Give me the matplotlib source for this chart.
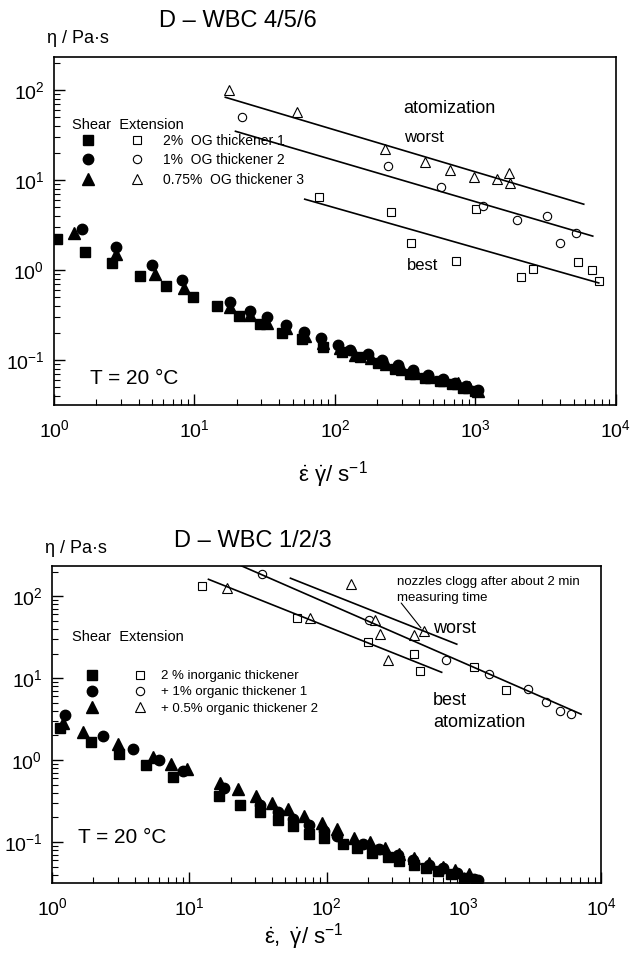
import matplotlib
matplotlib.use("Agg")
import matplotlib.pyplot as plt
from matplotlib.legend_handler import HandlerTuple
from matplotlib.ticker import LogLocator, NullFormatter

plt.rcParams["font.family"] = ["Liberation Sans", "DejaVu Sans"]
plt.rcParams["mathtext.fontset"] = "custom"
plt.rcParams["mathtext.rm"] = "Liberation Sans"
plt.rcParams["mathtext.it"] = "Liberation Sans:italic"
plt.rcParams["mathtext.bf"] = "Liberation Sans:bold"

# ---- D-WBC 4/5/6 : shear (filled) ----
a_sq_x = [1.05, 1.66, 2.6, 4.1, 6.3, 9.7, 14.4, 20.6, 29.5, 41.7, 58, 82, 112, 150, 203, 268, 344, 439, 563, 684, 817, 1000]
a_sq_y = [2.2, 1.58, 1.2, 0.86, 0.66, 0.5, 0.4, 0.31, 0.25, 0.20, 0.17, 0.14, 0.123, 0.108, 0.092, 0.08, 0.07, 0.063, 0.058, 0.054, 0.049, 0.045]
a_ci_x = [1.59, 2.77, 5.0, 8.2, 17.8, 24.7, 33, 44.7, 60, 80, 105, 128, 172, 215, 280, 360, 460, 590, 720, 860, 1050]
a_ci_y = [2.85, 1.8, 1.14, 0.77, 0.44, 0.35, 0.30, 0.245, 0.205, 0.175, 0.147, 0.13, 0.117, 0.1, 0.088, 0.077, 0.068, 0.062, 0.056, 0.052, 0.047]
a_tr_x = [1.39, 2.77, 5.2, 8.4, 17.8, 25, 33, 45, 61, 82, 108, 140, 180, 230, 300, 380, 480, 600, 750, 900, 1050]
a_tr_y = [2.6, 1.5, 0.9, 0.63, 0.39, 0.32, 0.26, 0.23, 0.185, 0.155, 0.135, 0.115, 0.105, 0.09, 0.08, 0.072, 0.065, 0.06, 0.055, 0.05, 0.045]

# ---- D-WBC 4/5/6 : extension (open) ----
a_osq_x = [77, 251, 350, 733, 1010, 2100, 2590, 5350, 6730, 7550]
a_osq_y = [6.5, 4.4, 2.0, 1.26, 4.75, 0.83, 1.02, 1.23, 1.0, 0.76]
a_oci_x = [21.7, 239, 573, 1125, 1990, 3250, 3980, 5180]
a_oci_y = [51, 14.4, 8.3, 5.2, 3.6, 4.0, 2.0, 2.6]
a_otr_x = [17.5, 53.5, 228, 439, 662, 970, 1416, 1730, 1760]
a_otr_y = [102, 58, 22, 15.8, 12.9, 10.8, 10.3, 12.0, 9.3]

# fitted lines (end points)
a_fit_worst_x = [16.6, 5910]
a_fit_worst_y = [83.6, 5.41]
a_fit_mid_x = [19.6, 6850]
a_fit_mid_y = [35.0, 2.39]
a_fit_best_x = [61, 7560]
a_fit_best_y = [6.15, 0.72]

a_labels = ["2%  OG thickener 1", "1%  OG thickener 2", "0.75%  OG thickener 3"]

# ---- D-WBC 1/2/3 : shear (filled) ----
b_sq_x = [1.14, 1.92, 3.09, 4.84, 7.6, 16.6, 23.6, 33, 44.6, 57, 75, 96, 131, 168, 216, 279, 340, 432, 530, 650, 810, 1000]
b_sq_y = [2.45, 1.66, 1.18, 0.87, 0.62, 0.36, 0.28, 0.23, 0.185, 0.157, 0.126, 0.112, 0.095, 0.085, 0.074, 0.066, 0.059, 0.052, 0.048, 0.044, 0.041, 0.036]
b_ci_x = [1.24, 2.36, 3.9, 6.0, 9.0, 18, 33, 44.6, 57, 75, 96, 120, 185, 240, 330, 430, 560, 700, 900, 1180, 1260]
b_ci_y = [3.6, 1.96, 1.36, 1.0, 0.73, 0.46, 0.28, 0.23, 0.19, 0.16, 0.136, 0.118, 0.095, 0.082, 0.07, 0.06, 0.053, 0.048, 0.042, 0.035, 0.034]
b_tr_x = [1.2, 1.68, 3.0, 5.4, 7.3, 9.7, 16.8, 22.5, 30.4, 40, 52, 69, 92, 120, 158, 206, 265, 340, 432, 556, 705, 870, 1090]
b_tr_y = [2.8, 2.2, 1.57, 1.1, 0.9, 0.77, 0.52, 0.44, 0.36, 0.30, 0.25, 0.21, 0.17, 0.144, 0.112, 0.1, 0.085, 0.071, 0.063, 0.055, 0.05, 0.046, 0.041]

# ---- D-WBC 1/2/3 : extension (open) ----
b_osq_x = [12.4, 60.5, 199, 432, 478, 1180, 2040]
b_osq_y = [132, 54, 27.5, 20, 12.2, 13.6, 7.1]
b_oci_x = [34, 203, 740, 1520, 2940, 3970, 5030, 6000]
b_oci_y = [186, 52, 16.6, 11.2, 7.4, 5.1, 4.0, 3.7]
b_otr_x = [18.9, 76, 150, 224, 247, 279, 432, 509]
b_otr_y = [126, 54, 140, 52, 34.5, 16.6, 33.3, 37.5]

b_fit_a_x = [13.8, 690]
b_fit_a_y = [161, 11.8]
b_fit_b_x = [20.9, 7150]
b_fit_b_y = [260, 3.64]
b_fit_c_x = [54.6, 889]
b_fit_c_y = [166, 26]

b_labels = ["2 % inorganic thickener", "+ 1% organic thickener 1", "+ 0.5% organic thickener 2"]


def setup_axes(ax, xpad, ypad):
    ax.set_xscale("log")
    ax.set_yscale("log")
    ax.set_xlim(1, 1e4)
    ax.set_ylim(10 ** -1.5, 10 ** 2.37)
    ax.set_xticks([1, 10, 100, 1000, 10000])
    ax.set_yticks([0.1, 1, 10, 100])
    ax.xaxis.set_minor_locator(LogLocator(base=10, subs=range(2, 10), numticks=20))
    ax.yaxis.set_minor_locator(LogLocator(base=10, subs=range(2, 10), numticks=20))
    ax.xaxis.set_minor_formatter(NullFormatter())
    ax.yaxis.set_minor_formatter(NullFormatter())
    ax.tick_params(which="both", direction="in", top=False, right=False, labelsize=14)
    ax.tick_params(which="major", length=8, width=1)
    ax.tick_params(which="minor", length=4, width=0.8)
    ax.tick_params(axis="x", which="both", pad=xpad)
    ax.tick_params(axis="y", which="both", pad=ypad)
    for sp in ax.spines.values():
        sp.set_linewidth(1.2)


def draw_series(ax, filled, opened):
    handles = []
    for (fx, fy, mk, fms), (ox, oy, oms) in zip(filled, opened):
        hf, = ax.plot(fx, fy, ls="none", marker=mk, ms=fms, color="black")
        ho, = ax.plot(ox, oy, ls="none", marker=mk, ms=oms, mfc="white", mec="black", mew=0.8)
        handles.append((hf, ho))
    return handles


fig = plt.figure(figsize=(6.32, 9.55), dpi=100)

# ---------------- top panel ----------------
ax1 = fig.add_axes([0.0854, 0.5759, 0.889, 0.3644])
setup_axes(ax1, xpad=10, ypad=7)
h1 = draw_series(
    ax1,
    [(a_sq_x, a_sq_y, "s", 7), (a_ci_x, a_ci_y, "o", 7.5), (a_tr_x, a_tr_y, "^", 8)],
    [(a_osq_x, a_osq_y, 5.5), (a_oci_x, a_oci_y, 6), (a_otr_x, a_otr_y, 6.5)],
)
for fx, fy in [(a_fit_worst_x, a_fit_worst_y), (a_fit_mid_x, a_fit_mid_y), (a_fit_best_x, a_fit_best_y)]:
    ax1.plot(fx, fy, color="black", lw=1.2)

ax1.text(0.032, 0.805, "Shear  Extension", transform=ax1.transAxes, fontsize=10.5, va="center")
ax1.legend(h1, a_labels, handler_map={tuple: HandlerTuple(ndivide=None, pad=1.22)},
           loc="upper left", bbox_to_anchor=(0.032, 0.780), frameon=False, fontsize=10,
           handlelength=5.83, handletextpad=0.72, labelspacing=0.4, borderpad=0, borderaxespad=0)
ax1.text(0.621, 0.853, "atomization", transform=ax1.transAxes, fontsize=13, va="center")
ax1.text(0.623, 0.770, "worst", transform=ax1.transAxes, fontsize=12, va="center")
ax1.text(0.628, 0.402, "best", transform=ax1.transAxes, fontsize=12, va="center")
ax1.text(0.064, 0.075, "T = 20 °C", transform=ax1.transAxes, fontsize=15, va="center")

fig.text(0.377, 0.978, "D – WBC 4/5/6", fontsize=17, ha="center", va="center")
fig.text(0.0744, 0.960, "η / Pa·s", fontsize=13, ha="left", va="center")
fig.text(0.527, 0.503, r"$\dot{\mathrm{ε}}\ \dot{\mathrm{γ}}$/ s$^{-1}$", fontsize=16, ha="center", va="center")

# ---------------- bottom panel ----------------
ax2 = fig.add_axes([0.0823, 0.0754, 0.8687, 0.332])
setup_axes(ax2, xpad=10, ypad=7)
h2 = draw_series(
    ax2,
    [(b_sq_x, b_sq_y, "s", 7), (b_ci_x, b_ci_y, "o", 7.5), (b_tr_x, b_tr_y, "^", 8)],
    [(b_osq_x, b_osq_y, 5.5), (b_oci_x, b_oci_y, 6), (b_otr_x, b_otr_y, 6.5)],
)
for fx, fy in [(b_fit_a_x, b_fit_a_y), (b_fit_b_x, b_fit_b_y), (b_fit_c_x, b_fit_c_y)]:
    ax2.plot(fx, fy, color="black", lw=1.2)

ax2.text(0.037, 0.776, "Shear  Extension", transform=ax2.transAxes, fontsize=10.5, va="center")
ax2.legend(h2, b_labels, handler_map={tuple: HandlerTuple(ndivide=None, pad=1.21)},
           loc="upper left", bbox_to_anchor=(0.0437, 0.672), frameon=False, fontsize=9.5,
           handlelength=6.06, handletextpad=0.38, labelspacing=0.3, borderpad=0, borderaxespad=0)
ax2.text(0.628, 0.95, "nozzles clogg after about 2 min", transform=ax2.transAxes, fontsize=9.5, va="center")
ax2.text(0.628, 0.899, "measuring time", transform=ax2.transAxes, fontsize=9.5, va="center")
ax2.annotate("", xy=(b_otr_x[-1], b_otr_y[-1]), xycoords="data",
             xytext=(0.636, 0.883), textcoords="axes fraction",
             arrowprops=dict(arrowstyle="-", lw=0.8, color="black", shrinkA=0, shrinkB=3))
ax2.text(0.694, 0.804, "worst", transform=ax2.transAxes, fontsize=13, va="center")
ax2.text(0.694, 0.577, "best", transform=ax2.transAxes, fontsize=13, va="center")
ax2.text(0.694, 0.505, "atomization", transform=ax2.transAxes, fontsize=13, va="center")
ax2.text(0.047, 0.145, "T = 20 °C", transform=ax2.transAxes, fontsize=15, va="center")

fig.text(0.400, 0.4335, "D – WBC 1/2/3", fontsize=17, ha="center", va="center")
fig.text(0.071, 0.426, "η / Pa·s", fontsize=13, ha="left", va="center")
fig.text(0.480, 0.019, r"$\dot{\mathrm{ε}},\ \dot{\mathrm{γ}}$/ s$^{-1}$", fontsize=16, ha="center", va="center")

fig.savefig("out.png", dpi=100)
